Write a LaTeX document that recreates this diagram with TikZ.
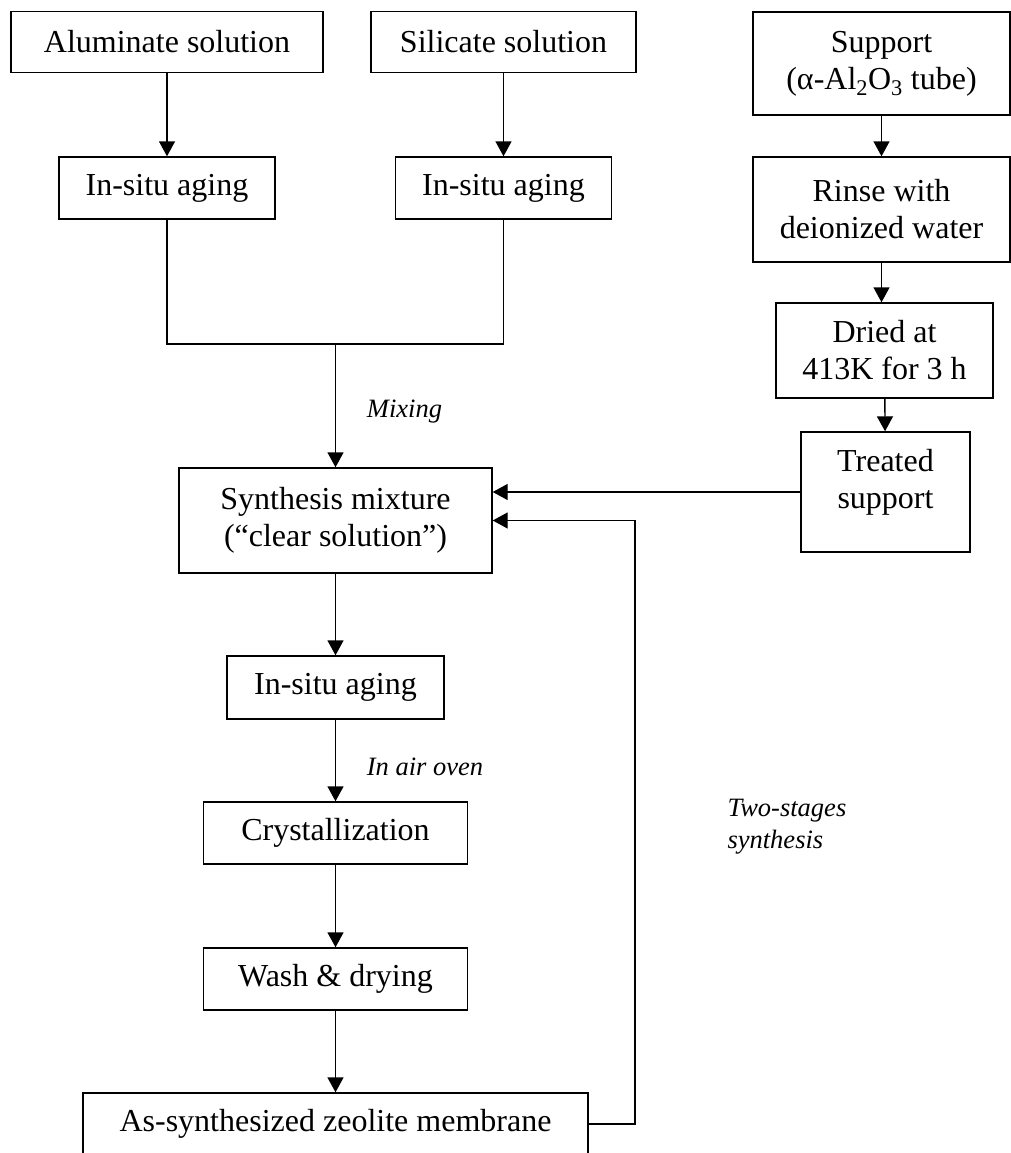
\documentclass[tikz,border=0pt]{standalone}
\usepackage{fontspec}
\setmainfont{Liberation Serif}
\usetikzlibrary{arrows.meta}

\begin{document}
\begin{tikzpicture}[x=1pt,y=-1pt,
    procBox/.style={draw, line width=1.4pt, align=center, inner sep=0pt,
      font=\fontsize{32}{37}\selectfont},
    flowArrow/.style={line width=1.4pt, -{Triangle[length=15pt,width=16pt]}},
    flowLine/.style={line width=1.4pt},
    noteText/.style={font=\fontsize{26.5}{32}\selectfont\itshape, align=left}]
  \useasboundingbox (0,0) rectangle (1011,1153);
  \clip (0,0) rectangle (1011,1153);

  % left and middle columns
  \node[procBox, minimum width=312, minimum height=61] (alum) at (167,42) {Aluminate solution};
  \node[procBox, minimum width=265, minimum height=61] (silic) at (503.5,42) {Silicate solution};
  \node[procBox, minimum width=216, minimum height=62] (agingL) at (167,188) {In-situ aging};
  \node[procBox, minimum width=216, minimum height=62] (agingR) at (503.5,188) {In-situ aging};
  \node[procBox, minimum width=313, minimum height=105] (synth) at (335.5,520.5) {Synthesis mixture\\(“clear solution”)};
  \node[procBox, minimum width=217, minimum height=63] (agingM) at (335.5,687.5) {In-situ aging};
  \node[procBox, minimum width=264, minimum height=62] (cryst) at (335.5,833) {Crystallization};
  \node[procBox, minimum width=264, minimum height=62] (wash) at (335.5,979) {Wash \& drying};
  \node[procBox, minimum width=505, minimum height=62] (asyn) at (335.5,1124) {As-synthesized zeolite membrane};

  % support column
  \node[procBox, minimum width=257, minimum height=103] (support) at (881.5,63.5) {Support\\(α-Al\textsubscript{2}O\textsubscript{3} tube)};
  \node[procBox, minimum width=257, minimum height=105] (rinse) at (881.5,209.5) {Rinse with\\deionized water};
  \node[procBox, minimum width=217, minimum height=95] (dried) at (884.5,350.5) {Dried at\\413K for 3 h};
  \node[procBox, minimum width=169, minimum height=120, text depth=26pt] (treated) at (885.5,492) {Treated\\support};

  % labels
  \node[noteText] (mixLbl) at (404.5,412) {Mixing};
  \node[noteText] (ovenLbl) at (425,767) {In air oven};
  \node[noteText, anchor=west] (twoLbl) at (724,827) {Two-stages\\synthesis};

  \coordinate (join) at (335.5,344);
  \coordinate (ret) at (635,0);

  \draw[flowArrow] (alum) -- (agingL);
  \draw[flowArrow] (silic) -- (agingR);
  \draw[flowLine] (agingL.south) |- (join) -| (agingR.south);
  \draw[flowArrow] (join) -- (synth.north);
  \draw[flowArrow] (synth) -- (agingM);
  \draw[flowArrow] (agingM) -- (cryst);
  \draw[flowArrow] (cryst) -- (wash);
  \draw[flowArrow] (wash) -- (asyn);

  \draw[flowArrow] (support) -- (rinse);
  \draw[flowArrow] (rinse.south) -- (rinse.south |- dried.north);
  \draw[flowArrow] (dried) -- (treated);
  \draw[flowArrow] (treated.west) -- (treated.west -| synth.east);
  \draw[flowArrow] (asyn.east) -- (asyn.east -| ret) -- (synth.east -| ret) -- (synth.east);
\end{tikzpicture}
\end{document}
